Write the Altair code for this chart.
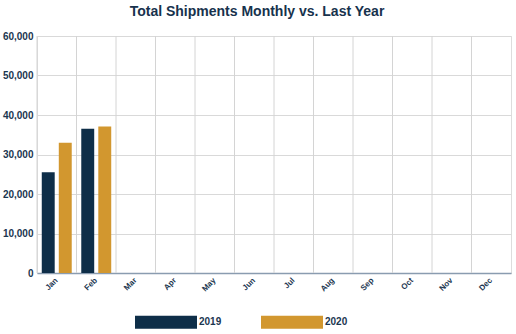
import altair as alt
import pandas as pd

months = ["Jan", "Feb", "Mar", "Apr", "May", "Jun", "Jul", "Aug", "Sep", "Oct", "Nov", "Dec"]
years = ["2019", "2020"]
values_2019 = [25500, 36500]
values_2020 = [33000, 37100]
y_ticks = [0, 10000, 20000, 30000, 40000, 50000, 60000]

navy = "#0E2E48"
gold = "#D2972F"
text_color = "#1B3650"

rows = []
for m, v in zip(months, values_2019):
    rows.append({"month": m, "year": "2019", "value": v})
for m, v in zip(months, values_2020):
    rows.append({"month": m, "year": "2020", "value": v})
bars_df = pd.DataFrame(rows)
grid_df = pd.DataFrame({"month": months})

x_scale = alt.Scale(domain=months, paddingInner=0, paddingOuter=0)

x_axis = alt.Axis(
    labelAngle=-45,
    labelAlign="right",
    labelBaseline="middle",
    labelPadding=6,
    labelFontSize=8,
    labelFontWeight="bold",
    labelColor=text_color,
    labelFont="Liberation Sans",
    ticks=False,
    grid=False,
    domainColor="#8A9CB0",
    domainWidth=1.5,
)

grid = alt.Chart(grid_df).mark_rule(color="#d4d4d4", strokeWidth=1).encode(
    x=alt.X("month:N", scale=x_scale, bandPosition=0, title=None, axis=x_axis)
)

bars = alt.Chart(bars_df).mark_bar().encode(
    x=alt.X("month:N", scale=x_scale, title=None, axis=x_axis),
    xOffset=alt.XOffset("year:N", scale=alt.Scale(domain=years, paddingInner=0.24, paddingOuter=0.28)),
    y=alt.Y(
        "value:Q",
        title=None,
        scale=alt.Scale(domain=[0, 60000]),
        axis=alt.Axis(
            values=y_ticks,
            format=",.0f",
            labelFontSize=10,
            labelFontWeight="bold",
            labelColor=text_color,
            labelFont="Liberation Sans",
            labelPadding=4,
            ticks=False,
            domain=False,
            gridColor="#d9d9d9",
        ),
    ),
    color=alt.Color(
        "year:N",
        scale=alt.Scale(domain=years, range=[navy, gold]),
        legend=alt.Legend(
            title=None,
            orient="none",
            direction="horizontal",
            legendX=98,
            legendY=255,
            symbolType="M-1,-0.21L1,-0.21L1,0.21L-1,0.21Z",
            symbolSize=3844,
            symbolStrokeWidth=0,
            labelFontSize=10,
            labelFontWeight="bold",
            labelColor=text_color,
            labelFont="Liberation Sans",
            labelOffset=2,
            columnPadding=39,
        ),
    ),
)

chart = (
    alt.layer(grid, bars)
    .properties(
        width=474,
        height=237,
        padding={"left": 37, "top": 36, "right": 5, "bottom": 61},
        autosize=alt.AutoSizeParams(type="none"),
        title=alt.TitleParams(
            "Total Shipments Monthly vs. Last Year",
            fontSize=14,
            font="Liberation Sans",
            fontWeight="bold",
            color="#17324D",
            anchor="middle",
            dx=-17,
            offset=12,
        ),
    )
    .configure_view(stroke="#d4d4d4")
    .configure(background="white")
)

chart.save("out.html", embed_options={"renderer": "svg", "actions": False})
